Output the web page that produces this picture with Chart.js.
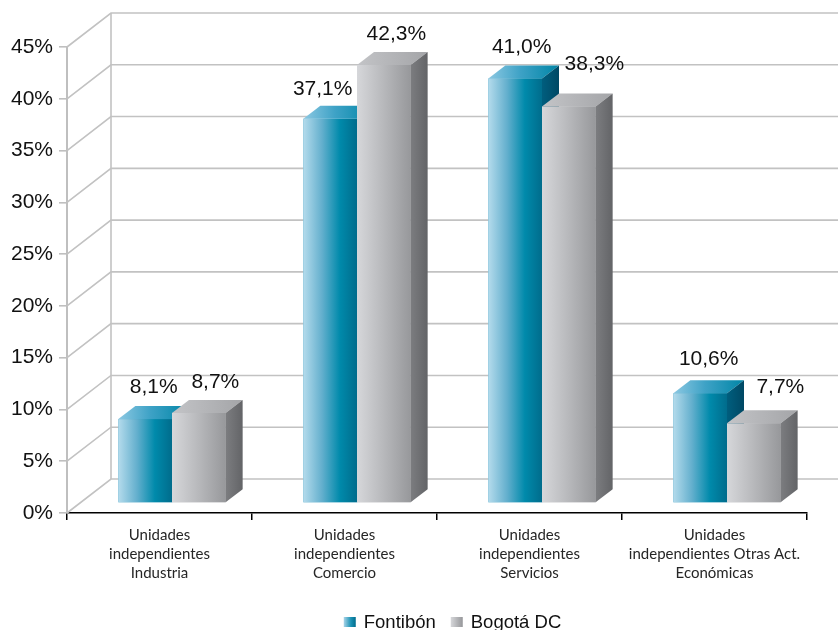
<!DOCTYPE html>
<html><head><meta charset="utf-8">
<script src="https://cdn.jsdelivr.net/npm/chart.js@4/dist/chart.umd.min.js"></script>
<style>html,body{margin:0;padding:0;background:#fff}#wrap{width:838px;height:630px;position:relative}</style>
</head><body><div id="wrap"><canvas id="c"></canvas></div>
<script>
// ---- data ----
const categories = [
  ["Unidades", "independientes", "Industria"],
  ["Unidades", "independientes", "Comercio"],
  ["Unidades", "independientes", "Servicios"],
  ["Unidades", "independientes Otras Act.", "Económicas"]
];
const seriesNames = ["Fontibón", "Bogotá DC"];
const fontibon = [8.1, 37.1, 41.0, 10.6];
const bogota = [8.7, 42.3, 38.3, 7.7];
const yMin = 0, yMax = 45, yStep = 5;

// ---- style ----
const BAR_PLANE = {x: 12.5, y: -10};   // bar plane offset from front plane
const WALL = {x: 44, y: -34};          // back wall offset from front plane
const BAR_DEPTH = {x: 17, y: 13};
const labelShiftX = [[0, -16, -2, 0], [8, 4, 17, 18]];
const labelLift = [[13, 11, 12, 15], [12, 12, 23, 17]];
const styles = [
  {
    flat: '#3a9cc0',
    front: [[0, '#b4dbec'], [0.35, '#63afcd'], [0.68, '#008aab'], [1, '#006c8c']],
    top: [[0, '#8cc8e2'], [0.45, '#3ea2c6'], [1, '#0085a6']],
    side: [[0, '#005e7e'], [1, '#004864']],
    legend: [[0, '#a9d4e8'], [0.6, '#1a92b5'], [1, '#006c8c']]
  },
  {
    flat: '#b4b5b8',
    front: [[0, '#d6d7da'], [0.5, '#b7b8bb'], [1, '#97989b']],
    top: [[0, '#c3c4c7'], [1, '#a4a5a8']],
    side: [[0, '#7c7d80'], [1, '#636467']],
    legend: [[0, '#d6d7da'], [1, '#96979a']]
  }
];

function grad(ctx, x0, x1, stops) {
  const g = ctx.createLinearGradient(x0, 0, x1, 0);
  stops.forEach(([o, c]) => g.addColorStop(o, c));
  return g;
}

function drawBar(ctx, el, d) {
  const {x, y, base, width} = el.getProps(['x', 'y', 'base', 'width'], true);
  const l = x - width / 2, r = x + width / 2;
  const dx = BAR_DEPTH.x, dy = BAR_DEPTH.y;
  const st = styles[d];
  ctx.fillStyle = grad(ctx, l, r, st.front);
  ctx.fillRect(l, y, width, base - y);
  ctx.fillStyle = grad(ctx, l, r + dx, st.top);
  ctx.beginPath();
  ctx.moveTo(l, y); ctx.lineTo(r, y); ctx.lineTo(r + dx, y - dy); ctx.lineTo(l + dx, y - dy);
  ctx.closePath(); ctx.fill();
  ctx.fillStyle = grad(ctx, r, r + dx, st.side);
  ctx.beginPath();
  ctx.moveTo(r, y); ctx.lineTo(r + dx, y - dy); ctx.lineTo(r + dx, base - dy); ctx.lineTo(r, base);
  ctx.closePath(); ctx.fill();
}

const threeD = {
  id: 'threeD',
  beforeDatasetsDraw(chart) {
    const {ctx, chartArea: a} = chart;
    const ys = chart.scales.y;
    ctx.save();
    ctx.strokeStyle = '#c2c2c2';
    ctx.lineWidth = 1.6;
    for (let v = yMin; v <= yMax; v += yStep) {
      const py = ys.getPixelForValue(v);
      ctx.beginPath();
      ctx.moveTo(a.left, py);
      ctx.lineTo(a.left + WALL.x, py + WALL.y);
      ctx.lineTo(chart.width, py + WALL.y);
      ctx.stroke();
    }
    ctx.beginPath();
    ctx.moveTo(a.left + WALL.x, ys.getPixelForValue(yMin) + WALL.y);
    ctx.lineTo(a.left + WALL.x, ys.getPixelForValue(yMax) + WALL.y);
    ctx.stroke();
    ctx.restore();
    ctx.save();
    ctx.translate(BAR_PLANE.x, BAR_PLANE.y);
  },
  afterDatasetsDraw(chart) {
    const ctx = chart.ctx;
    const n = chart.data.datasets.length;
    for (let i = 0; i < categories.length; i++) {
      for (let d = 0; d < n; d++) {
        drawBar(ctx, chart.getDatasetMeta(d).data[i], d);
      }
    }
    ctx.fillStyle = '#111';
    ctx.font = '21px "Liberation Sans", Arial, sans-serif';
    ctx.textAlign = 'center';
    ctx.textBaseline = 'alphabetic';
    for (let d = 0; d < n; d++) {
      const ds = chart.data.datasets[d];
      chart.getDatasetMeta(d).data.forEach((el, i) => {
        const txt = ds.data[i].toFixed(1).replace('.', ',') + '%';
        ctx.fillText(txt, el.x + BAR_DEPTH.x / 2 + labelShiftX[d][i], el.y - BAR_DEPTH.y - labelLift[d][i]);
      });
    }
    ctx.restore();
  },
  afterDraw(chart) {
    const {ctx, chartArea: a} = chart;
    ctx.save();
    ctx.font = '18.5px "Liberation Sans", Arial, sans-serif';
    ctx.textBaseline = 'alphabetic';
    ctx.textAlign = 'left';
    const boxW = 12, boxH = 10, gap = 8, itemGap = 15;
    const names = chart.data.datasets.map(ds => ds.label);
    const widths = names.map(t => ctx.measureText(t).width);
    let total = 0;
    widths.forEach((w, i) => { total += boxW + gap + w + (i ? itemGap : 0); });
    let x = (a.left + chart.width) / 2 - total / 2;
    const base = 628;
    names.forEach((t, i) => {
      ctx.fillStyle = grad(ctx, x, x + boxW, styles[i].legend);
      ctx.fillRect(x, base - 11, boxW, boxH);
      x += boxW + gap;
      ctx.fillStyle = '#111';
      ctx.fillText(t, x, base);
      x += widths[i] + itemGap;
    });
    ctx.restore();
  }
};

new Chart(document.getElementById('c'), {
  type: 'bar',
  data: {
    labels: categories,
    datasets: [
      {label: seriesNames[0], data: fontibon, backgroundColor: styles[0].flat, borderWidth: 0},
      {label: seriesNames[1], data: bogota, backgroundColor: styles[1].flat, borderWidth: 0}
    ]
  },
  options: {
    responsive: true,
    maintainAspectRatio: false,
    animation: false,
    events: [],
    categoryPercentage: 0.58,
    barPercentage: 1,
    layout: {padding: {left: 0, right: 31, top: 47, bottom: 0}},
    plugins: {legend: {display: false}, tooltip: {enabled: false}},
    scales: {
      x: {
        afterFit(s) { s.height = 117; },
        grid: {display: true, drawOnChartArea: false, drawTicks: true, tickLength: 7, color: '#000', lineWidth: 1.5, offset: true},
        border: {display: true, color: '#000', width: 1.5},
        ticks: {font: {family: 'Lato', size: 15, lineHeight: 1.27}, color: '#262626', padding: 6, maxRotation: 0, minRotation: 0, autoSkip: false}
      },
      y: {
        min: yMin, max: yMax,
        afterFit(s) { s.width = 67; },
        grid: {display: true, drawOnChartArea: false, drawTicks: true, tickLength: 8, color: '#bfbfbf', lineWidth: 1.6},
        border: {display: true, color: '#bfbfbf', width: 2},
        ticks: {stepSize: yStep, padding: 6, color: '#111', font: {family: '"Liberation Sans", Arial', size: 21}, callback: v => v + '%'}
      }
    }
  },
  plugins: [threeD]
});
</script>
</body></html>
